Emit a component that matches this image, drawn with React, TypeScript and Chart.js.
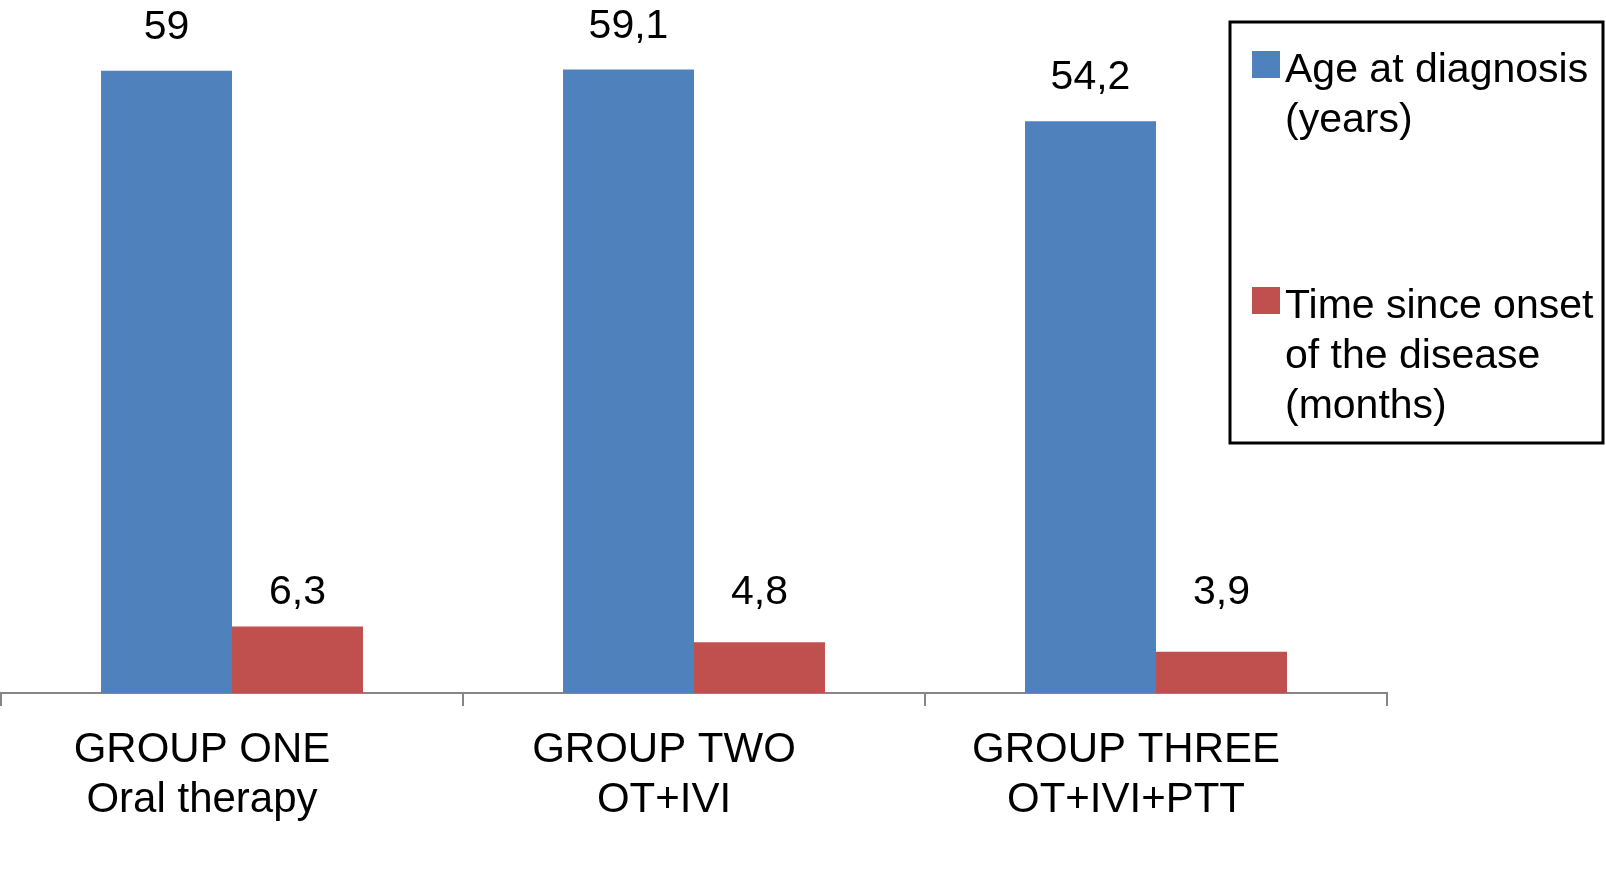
import React, { useEffect, useRef } from "react";
import { Chart, registerables } from "chart.js";

Chart.register(...registerables);

const categories: string[][] = [
  ["GROUP ONE", "Oral therapy"],
  ["GROUP TWO", "OT+IVI"],
  ["GROUP THREE", "OT+IVI+PTT"],
];
const ageAtDiagnosis: number[] = [59, 59.1, 54.2];
const timeSinceOnset: number[] = [6.3, 4.8, 3.9];
const seriesNames: string[][] = [
  ["Age at diagnosis", "(years)"],
  ["Time since onset", "of the disease", "(months)"],
];
const seriesColors: string[] = ["#4F81BD", "#C0504D"];

const FONT = '"Liberation Sans", Arial, Helvetica, sans-serif';

const fmt = (v: number) => String(v).replace(".", ",");

const valueLabelsPlugin = {
  id: "valueLabels",
  afterDatasetsDraw(chart: any) {
    const ctx = chart.ctx;
    const yScale = chart.scales.y;
    ctx.save();
    ctx.font = `41px ${FONT}`;
    ctx.fillStyle = "#000";
    ctx.textAlign = "center";
    ctx.textBaseline = "alphabetic";
    chart.data.datasets.forEach((ds: any, di: number) => {
      const meta = chart.getDatasetMeta(di);
      const maxVal = Math.max(...(ds.data as number[]));
      meta.data.forEach((bar: any, i: number) => {
        const v = ds.data[i] as number;
        let y: number;
        if (di === 0) {
          y = bar.y - 32;
        } else {
          y = yScale.getPixelForValue(maxVal) - 23;
        }
        ctx.fillText(fmt(v), bar.x, y);
      });
    });
    ctx.restore();
  },
};

const boxLegendPlugin = {
  id: "boxLegend",
  afterDraw(chart: any) {
    const ctx = chart.ctx;
    const left = 1230, top = 22, right = 1603, bottom = 443;
    ctx.save();
    ctx.lineWidth = 3;
    ctx.strokeStyle = "#000";
    ctx.strokeRect(left, top, right - left, bottom - top);
    ctx.font = `41px ${FONT}`;
    ctx.textAlign = "left";
    ctx.textBaseline = "alphabetic";
    const firstBaseline = top + 60;
    const itemStride = 236;
    const lineH = 50;
    chart.data.datasets.forEach((ds: any, di: number) => {
      const base = firstBaseline + di * itemStride;
      ctx.fillStyle = ds.backgroundColor;
      ctx.fillRect(left + 22, base - 31, 28, 27);
      ctx.fillStyle = "#000";
      (ds.legendLines as string[]).forEach((line: string, li: number) => {
        ctx.fillText(line, left + 55, base + li * lineH);
      });
    });
    ctx.restore();
  },
};

export default function App() {
  const canvasRef = useRef<HTMLCanvasElement | null>(null);

  useEffect(() => {
    if (!canvasRef.current) return;
    const chart = new Chart(canvasRef.current, {
      type: "bar",
      data: {
        labels: categories,
        datasets: [
          {
            label: seriesNames[0].join(" "),
            legendLines: seriesNames[0],
            data: ageAtDiagnosis,
            backgroundColor: seriesColors[0],
            borderWidth: 0,
          } as any,
          {
            label: seriesNames[1].join(" "),
            legendLines: seriesNames[1],
            data: timeSinceOnset,
            backgroundColor: seriesColors[1],
            borderWidth: 0,
          } as any,
        ],
      },
      options: {
        animation: false,
        responsive: true,
        maintainAspectRatio: false,
        layout: { padding: { left: 1, right: 219, top: 0, bottom: 0 } },
        datasets: {
          bar: { categoryPercentage: 0.567, barPercentage: 1.0 },
        },
        plugins: {
          legend: { display: false },
          tooltip: { enabled: false },
        },
        scales: {
          x: {
            afterFit: (scale: any) => {
              scale.height = 185;
            },
            grid: {
              display: true,
              drawOnChartArea: false,
              drawTicks: true,
              tickLength: 13,
              offset: true,
              color: "#868686",
              lineWidth: 2,
            },
            border: { display: true, color: "#868686", width: 2 },
            ticks: {
              color: "#000",
              font: { family: FONT, size: 42, lineHeight: 50 / 42 },
              padding: 19,
              labelOffset: -30,
              autoSkip: false,
              maxRotation: 0,
              minRotation: 0,
            },
          },
          y: {
            display: false,
            min: 0,
            max: 65.7,
          },
        },
      },
      plugins: [valueLabelsPlugin, boxLegendPlugin],
    });
    return () => chart.destroy();
  }, []);

  return (
    <div
      style={{
        position: "absolute",
        left: 0,
        top: 0,
        width: 1606,
        height: 878,
        background: "#fff",
      }}
    >
      <canvas ref={canvasRef} />
    </div>
  );
}
